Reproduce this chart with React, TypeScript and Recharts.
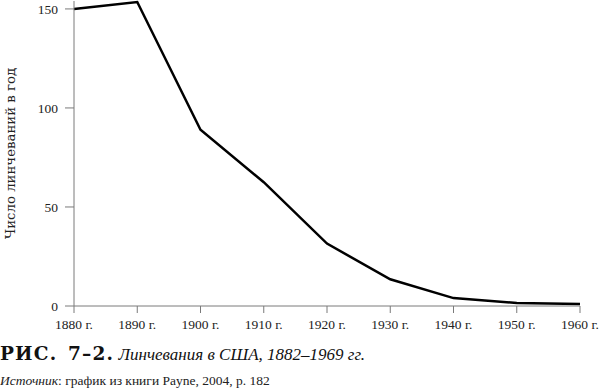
import { LineChart, Line, XAxis, YAxis } from 'recharts'

const years = [1880, 1890, 1900, 1910, 1920, 1930, 1940, 1950, 1960]
const lynchings = [150, 153.5, 89, 62.5, 31.5, 13.5, 4, 1.5, 1]
const yTicks = [0, 50, 100, 150]

const data = years.map((year, i) => ({ year, value: lynchings[i] }))

const serif = '"Liberation Serif", "DejaVu Serif", serif'
const axisColor = '#7a7a7a'
const textColor = '#222'

export default function App() {
  return (
    <div style={{ position: 'absolute', left: 0, top: 0, width: 599, height: 390, background: '#fff', fontFamily: serif }}>
      <LineChart width={599} height={338} data={data} margin={{ top: 1, right: 19, left: 0, bottom: 0 }}>
        <XAxis
          dataKey="year"
          type="number"
          domain={[1880, 1960]}
          ticks={years}
          tickFormatter={(v) => `${v} г.`}
          stroke={axisColor}
          tick={{ fill: textColor, fontSize: 13.5, fontFamily: serif }}
          tickSize={7}
          tickMargin={6}
          height={32}
        />
        <YAxis
          domain={[0, 154]}
          ticks={yTicks}
          stroke={axisColor}
          tick={{ fill: textColor, fontSize: 13.5, fontFamily: serif }}
          tickSize={9}
          tickMargin={7}
          width={74}
          label={{
            value: 'Число линчеваний в год',
            angle: -90,
            position: 'insideLeft',
            offset: 10,
            style: { fill: textColor, fontSize: 13.3, fontFamily: '"DejaVu Serif", serif', textAnchor: 'middle' },
          }}
        />
        <Line
          type="linear"
          dataKey="value"
          stroke="#000"
          strokeWidth={2.5}
          dot={false}
          isAnimationActive={false}
        />
      </LineChart>
      <div style={{ position: 'absolute', left: 0, top: 343, fontSize: 17, color: '#111', whiteSpace: 'nowrap' }}>
        <b style={{ fontFamily: '"DejaVu Serif", serif', fontSize: 18.5, letterSpacing: 1.2, wordSpacing: 3 }}>РИС. 7–2.</b>{' '}
        <i>Линчевания в США, 1882–1969 гг.</i>
      </div>
      <div style={{ position: 'absolute', left: 0, top: 373, fontSize: 13.5, color: textColor, whiteSpace: 'nowrap' }}>
        <i>Источник</i>: график из книги Payne, 2004, p. 182
      </div>
    </div>
  )
}
